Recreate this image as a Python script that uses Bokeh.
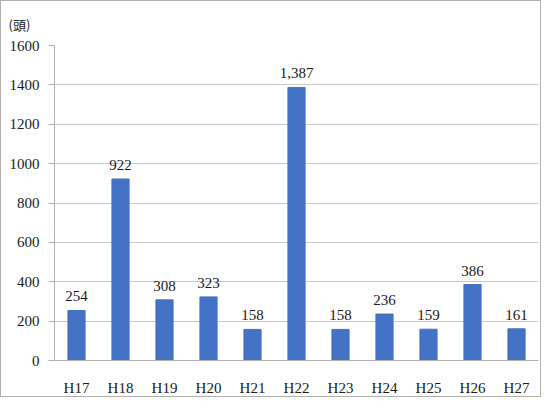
from bokeh.plotting import figure
from bokeh.models import Range1d, FactorRange, ColumnDataSource, FixedTicker
from bokeh.embed import file_html
from bokeh.resources import INLINE

years = ["H17", "H18", "H19", "H20", "H21", "H22", "H23", "H24", "H25", "H26", "H27"]
counts = [254, 922, 308, 323, 158, 1387, 158, 236, 159, 386, 161]
labels = ["254", "922", "308", "323", "158", "1,387", "158", "236", "159", "386", "161"]
y_ticks = [0, 200, 400, 600, 800, 1000, 1200, 1400, 1600]

src = ColumnDataSource(dict(x=years, y=counts, t=labels))

p = figure(width=541, height=397, x_range=FactorRange(*years, range_padding=0),
           y_range=Range1d(0, 1600), output_backend="svg", toolbar_location=None,
           min_border_left=53, min_border_right=4, min_border_top=43, min_border_bottom=33,
           title="(頭)")
p.styles = {"border": "1px solid #b0b0b0"}
p.outline_line_color = None
p.background_fill_color = "white"

p.title.align = "left"
p.title.offset = -46
p.title.standoff = 23
p.title.text_font = "Noto Sans CJK JP"
p.title.text_font_size = "13px"
p.title.text_font_style = "normal"
p.title.text_color = "#1a1a1a"

p.vbar(x="x", top="y", width=0.39, source=src, color="#4472C4")
p.text(x="x", y="y", text="t", source=src, text_align="center", text_baseline="bottom",
       y_offset=-9, text_font_size="15px", text_font="Liberation Serif", text_color="#1a1a1a")

p.yaxis.ticker = FixedTicker(ticks=y_ticks)
p.ygrid.ticker = FixedTicker(ticks=y_ticks)
p.ygrid.grid_line_color = "#c8c8c8"
p.xgrid.grid_line_color = None
p.yaxis.axis_line_color = "#b0b0b0"
p.yaxis.major_tick_line_color = "#b0b0b0"
p.yaxis.major_tick_out = 6
p.yaxis.major_tick_in = 0
p.yaxis.minor_tick_line_color = None
p.yaxis.major_label_standoff = 9
p.yaxis.major_label_text_font = "Liberation Serif"
p.yaxis.major_label_text_font_size = "15px"
p.yaxis.major_label_text_color = "#1a1a1a"

p.xaxis.axis_line_color = "#b0b0b0"
p.xaxis.major_tick_line_color = None
p.xaxis.major_label_standoff = 13
p.xaxis.major_label_text_font = "Liberation Serif"
p.xaxis.major_label_text_font_size = "15px"
p.xaxis.major_label_text_color = "#1a1a1a"

open("out.html", "w").write(file_html(p, INLINE))
